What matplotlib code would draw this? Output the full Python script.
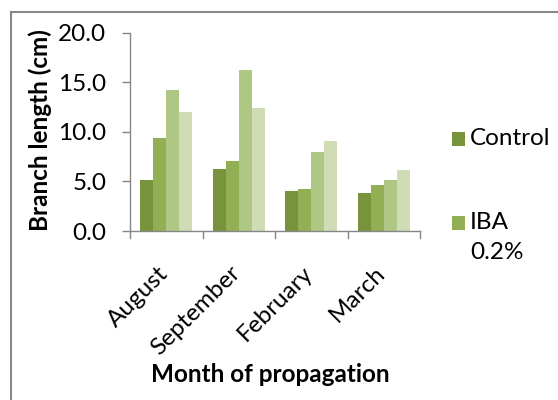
import numpy as np
import matplotlib
matplotlib.use("Agg")
import matplotlib.pyplot as plt
from matplotlib.patches import Rectangle
from matplotlib.lines import Line2D
from matplotlib.transforms import ScaledTranslation

plt.rcParams['font.family'] = ['Lato', 'DejaVu Sans']

months = ["August", "September", "February", "March"]
control = [5.1, 6.3, 4.0, 3.8]
iba_02 = [9.4, 7.1, 4.2, 4.6]
iba_04 = [14.2, 16.2, 8.0, 5.1]
iba_06 = [12.0, 12.4, 9.1, 6.2]
series = [control, iba_02, iba_04, iba_06]
legend_labels = ["Control", "IBA\n0.2%"]
colors = ["#77933C", "#92AF54", "#AEC785", "#D0DCB5"]
yticks = [0, 5, 10, 15, 20]

W, H = 558, 400
FS = 17.5
fig = plt.figure(figsize=(W / 100, H / 100), dpi=100)
ax = fig.add_axes([130 / W, 1 - 231 / H, 290 / W, (231 - 32.7) / H])

x = np.arange(len(months))
bw = 0.18
for i, vals in enumerate(series):
    ax.bar(x + (i - 1.5) * bw, vals, width=bw, color=colors[i], linewidth=0)

ax.set_xlim(-0.5, len(months) - 0.5)
ax.set_ylim(0, 20)
ax.set_yticks(yticks)
ax.set_yticklabels([f"{v:.1f}" for v in yticks], fontsize=FS)
ax.set_xticks(x)
ax.set_xticklabels(months, rotation=45, ha="right", rotation_mode="anchor", fontsize=FS)
ax.tick_params(axis="x", length=0, pad=19)
ax.tick_params(axis="y", length=6, width=1, color="#868686", pad=11)
shift = ScaledTranslation(-0.09, -0.05, fig.dpi_scale_trans)
for lbl in ax.get_xticklabels():
    lbl.set_transform(lbl.get_transform() + shift)

# category separators below the x axis
for b in np.arange(-0.5, len(months), 1.0):
    ax.add_line(Line2D([b, b], [0, -0.035], transform=ax.get_xaxis_transform(),
                       color="#868686", lw=1, clip_on=False))

for s in ["top", "right"]:
    ax.spines[s].set_visible(False)
for s in ["left", "bottom"]:
    ax.spines[s].set_color("#868686")
    ax.spines[s].set_linewidth(1)


def px(xp, yp):
    return xp / W, 1 - yp / H


fig.text(*px(40, 130), "Branch length (cm)", fontsize=FS, fontweight="bold",
         rotation=90, ha="center", va="center")
fig.text(*px(270, 374), "Month of propagation", fontsize=FS,
         fontweight="bold", ha="center", va="center")

# legend: square markers with labels
leg_y = [139, 223]
for i, (lab, yc) in enumerate(zip(legend_labels, leg_y)):
    x0, y0 = px(452, yc + 7)
    fig.add_artist(Rectangle((x0, y0), 13 / W, 14 / H, transform=fig.transFigure,
                             facecolor=colors[i], edgecolor="none"))
    fig.text(*px(470, yc - 11), lab, fontsize=FS, ha="left", va="top", linespacing=1.55)

# chart frame
fig.add_artist(Line2D([11 / W, 11 / W], [0, 1 - 12 / H], transform=fig.transFigure,
                      color="#888888", lw=1.5))
fig.add_artist(Line2D([11 / W, 1], [1 - 12 / H, 1 - 12 / H], transform=fig.transFigure,
                      color="#888888", lw=1.5))

fig.savefig("out.png", dpi=100)
